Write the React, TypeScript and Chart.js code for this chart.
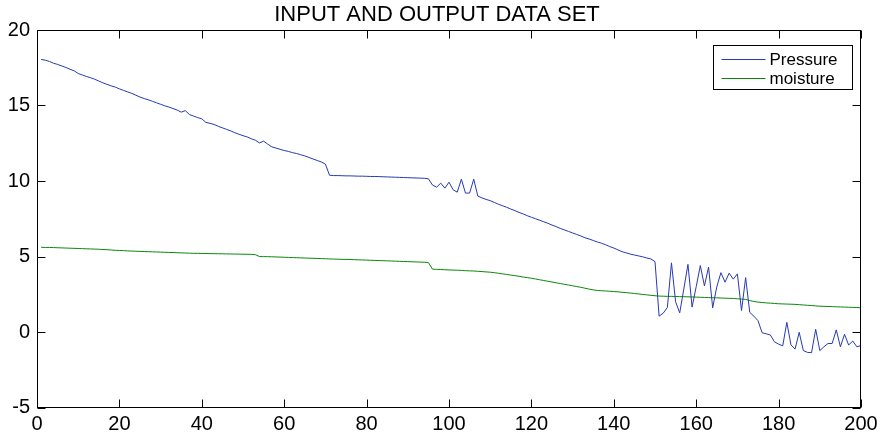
import React, { useEffect, useRef } from "react";
import { Chart, registerables } from "chart.js";

Chart.register(...registerables);

const TITLE = "INPUT AND OUTPUT DATA SET";
const SERIES_NAMES = ["Pressure", "moisture"];
const X_TICKS = [0, 20, 40, 60, 80, 100, 120, 140, 160, 180, 200];
const Y_TICKS = [-5, 0, 5, 10, 15, 20];

const pressure = [
  18.05, 18.0, 17.92, 17.8, 17.72, 17.62, 17.52, 17.4, 17.3, 17.12,
  17.02, 16.92, 16.84, 16.74, 16.62, 16.5, 16.4, 16.3, 16.22, 16.1,
  16.0, 15.9, 15.8, 15.68, 15.56, 15.46, 15.38, 15.28, 15.18, 15.08,
  14.98, 14.9, 14.8, 14.7, 14.56, 14.66, 14.4, 14.3, 14.2, 14.12,
  13.88, 13.82, 13.74, 13.62, 13.52, 13.42, 13.32, 13.2, 13.1, 13.0,
  12.92, 12.8, 12.7, 12.52, 12.64, 12.44, 12.26, 12.18, 12.1, 12.02,
  11.96, 11.88, 11.82, 11.74, 11.66, 11.56, 11.46, 11.36, 11.26, 11.12,
  10.38, 10.36, 10.36, 10.35, 10.34, 10.34, 10.33, 10.32, 10.32, 10.31,
  10.3, 10.3, 10.29, 10.28, 10.27, 10.26, 10.25, 10.24, 10.23, 10.22,
  10.21, 10.2, 10.19, 10.18, 10.15, 9.73, 9.59, 9.86, 9.53, 9.92,
  9.42, 9.26, 10.12, 9.2, 9.2, 10.12, 9.0, 8.88, 8.78, 8.7,
  8.58, 8.46, 8.36, 8.26, 8.14, 8.04, 7.92, 7.82, 7.7, 7.6,
  7.5, 7.4, 7.3, 7.2, 7.08, 6.98, 6.86, 6.76, 6.66, 6.56,
  6.46, 6.36, 6.24, 6.16, 6.06, 5.96, 5.88, 5.78, 5.66, 5.56,
  5.44, 5.32, 5.24, 5.16, 5.1, 5.04, 4.98, 4.9, 4.84, 4.66,
  1.05, 1.25, 1.62, 4.58, 2.0, 1.27, 2.85, 4.48, 1.65, 3.0,
  4.4, 3.05, 4.3, 1.6, 3.0, 3.93, 3.3, 3.9, 3.5, 3.85,
  1.42, 3.6, 1.3, 1.05, 0.75, -0.05, -0.12, -0.2, -0.65, -0.8,
  -0.92, 0.64, -0.85, -1.13, -0.02, -1.23, -1.35, -1.37, 0.18, -1.23,
  -0.98, -0.76, -0.76, 0.14, -0.98, -0.15, -0.86, -0.6, -0.98, -0.9,
];

const moisture = [
  5.61, 5.6, 5.6, 5.59, 5.58, 5.57, 5.56, 5.55, 5.54, 5.53,
  5.52, 5.51, 5.5, 5.49, 5.48, 5.46, 5.45, 5.43, 5.41, 5.4,
  5.39, 5.37, 5.36, 5.35, 5.34, 5.33, 5.32, 5.31, 5.3, 5.29,
  5.28, 5.27, 5.26, 5.25, 5.24, 5.23, 5.22, 5.21, 5.21, 5.2,
  5.2, 5.19, 5.19, 5.18, 5.18, 5.17, 5.17, 5.16, 5.16, 5.15,
  5.15, 5.14, 5.12, 5.0, 4.99, 4.99, 4.98, 4.97, 4.96, 4.95,
  4.94, 4.93, 4.92, 4.91, 4.9, 4.89, 4.88, 4.87, 4.86, 4.85,
  4.84, 4.83, 4.82, 4.81, 4.81, 4.8, 4.79, 4.78, 4.77, 4.76,
  4.75, 4.74, 4.73, 4.72, 4.71, 4.7, 4.69, 4.68, 4.67, 4.66,
  4.65, 4.64, 4.63, 4.62, 4.6, 4.16, 4.15, 4.14, 4.12, 4.11,
  4.1, 4.09, 4.08, 4.06, 4.05, 4.04, 4.02, 4.0, 3.98, 3.96,
  3.93, 3.89, 3.85, 3.81, 3.77, 3.73, 3.69, 3.64, 3.6, 3.56,
  3.51, 3.46, 3.41, 3.36, 3.31, 3.26, 3.21, 3.16, 3.11, 3.06,
  3.01, 2.96, 2.9, 2.84, 2.79, 2.75, 2.73, 2.72, 2.7, 2.68,
  2.66, 2.63, 2.61, 2.58, 2.55, 2.52, 2.49, 2.46, 2.43, 2.4,
  2.38, 2.37, 2.36, 2.36, 2.35, 2.34, 2.34, 2.33, 2.32, 2.31,
  2.3, 2.29, 2.28, 2.27, 2.26, 2.25, 2.24, 2.23, 2.22, 2.2,
  2.18, 2.16, 2.08, 2.02, 1.98, 1.95, 1.93, 1.91, 1.89, 1.87,
  1.86, 1.85, 1.84, 1.83, 1.81, 1.79, 1.77, 1.75, 1.73, 1.71,
  1.7, 1.69, 1.68, 1.67, 1.66, 1.65, 1.64, 1.63, 1.62, 1.6,
];

const COLORS = ["rgb(38,58,178)", "rgb(10,135,10)"];
const FONT = "'Liberation Sans', Arial, Helvetica, sans-serif";

const matlabPlugin = {
  id: "matlabDecor",
  afterDraw(chart: any) {
    const { ctx, chartArea } = chart;
    const { left, right, top, bottom } = chartArea;
    const L = Math.round(left) + 0.5;
    const R = Math.round(right) - 0.5;
    const T = Math.round(top) + 0.5;
    const B = Math.round(bottom) - 0.5;
    ctx.save();
    ctx.strokeStyle = "#000";
    ctx.lineWidth = 1;
    const tl = 8;
    const xs = chart.scales.x;
    const ys = chart.scales.y;
    ctx.beginPath();
    xs.ticks.forEach((t: any) => {
      const px = Math.round(xs.getPixelForValue(t.value)) + 0.5;
      ctx.moveTo(px, B);
      ctx.lineTo(px, B - tl);
      ctx.moveTo(px, T);
      ctx.lineTo(px, T + tl);
    });
    ys.ticks.forEach((t: any) => {
      const py = Math.round(ys.getPixelForValue(t.value)) + 0.5;
      ctx.moveTo(L, py);
      ctx.lineTo(L + tl, py);
      ctx.moveTo(R, py);
      ctx.lineTo(R - tl, py);
    });
    ctx.stroke();
    ctx.strokeRect(L, T, R - L, B - T);

    // title
    ctx.fillStyle = "#000";
    ctx.font = `22px ${FONT}`;
    ctx.textAlign = "center";
    ctx.textBaseline = "alphabetic";
    ctx.fillText(TITLE, 437, 21);

    // legend
    const bw = 139;
    const bh = 44;
    const bx = Math.round(right) - 9 - bw + 0.5;
    const by = Math.round(top) + 15 + 0.5;
    ctx.fillStyle = "#fff";
    ctx.fillRect(bx, by, bw, bh);
    ctx.strokeStyle = "#000";
    ctx.strokeRect(bx, by, bw, bh);
    ctx.font = `17px ${FONT}`;
    ctx.textAlign = "left";
    ctx.textBaseline = "middle";
    SERIES_NAMES.forEach((name, i) => {
      const ly = Math.round(by + 13 + i * 19) + 0.5;
      ctx.strokeStyle = COLORS[i];
      ctx.beginPath();
      ctx.moveTo(bx + 8, ly);
      ctx.lineTo(bx + 52, ly);
      ctx.stroke();
      ctx.fillStyle = "#000";
      ctx.fillText(name, bx + 56, ly + 0.5);
    });
    ctx.restore();
  },
};

export default function App() {
  const ref = useRef<HTMLCanvasElement | null>(null);
  useEffect(() => {
    if (!ref.current) return;
    const series = [pressure, moisture];
    const chart = new Chart(ref.current, {
      type: "line",
      data: {
        datasets: series.map((vals, i) => ({
          label: SERIES_NAMES[i],
          data: vals.map((v, k) => ({ x: k + 1, y: v })),
          borderColor: COLORS[i],
          backgroundColor: COLORS[i],
          borderWidth: 1,
          pointRadius: 0,
          tension: 0,
          fill: false,
        })),
      },
      options: {
        animation: false,
        responsive: false,
        events: [],
        layout: { padding: { top: 30, right: 16, left: 0, bottom: 0 } },
        plugins: {
          legend: { display: false },
          title: { display: false },
          tooltip: { enabled: false },
        },
        scales: {
          x: {
            type: "linear",
            min: 0,
            max: 200,
            afterBuildTicks: (axis: any) => {
              axis.ticks = X_TICKS.map((v) => ({ value: v }));
            },
            afterFit: (axis: any) => {
              axis.height = 28.5;
              axis.paddingRight = 16;
              axis.paddingLeft = 0;
            },
            grid: { display: false, drawTicks: false },
            border: { display: false },
            ticks: {
              color: "#000",
              font: { family: FONT, size: 20 },
              padding: 5,
              maxRotation: 0,
              autoSkip: false,
            },
          },
          y: {
            type: "linear",
            min: -5,
            max: 20,
            afterBuildTicks: (axis: any) => {
              axis.ticks = Y_TICKS.map((v) => ({ value: v }));
            },
            afterFit: (axis: any) => {
              axis.width = 37;
            },
            grid: { display: false, drawTicks: false },
            border: { display: false },
            ticks: {
              color: "#000",
              font: { family: FONT, size: 20 },
              padding: 7,
              autoSkip: false,
            },
          },
        },
      },
      plugins: [matlabPlugin],
    });
    return () => chart.destroy();
  }, []);
  return (
    <div style={{ position: "fixed", left: 0, top: 0, width: 877, height: 436, background: "#fff" }}>
      <canvas ref={ref} width={877} height={436} style={{ width: 877, height: 436, display: "block" }} />
    </div>
  );
}
